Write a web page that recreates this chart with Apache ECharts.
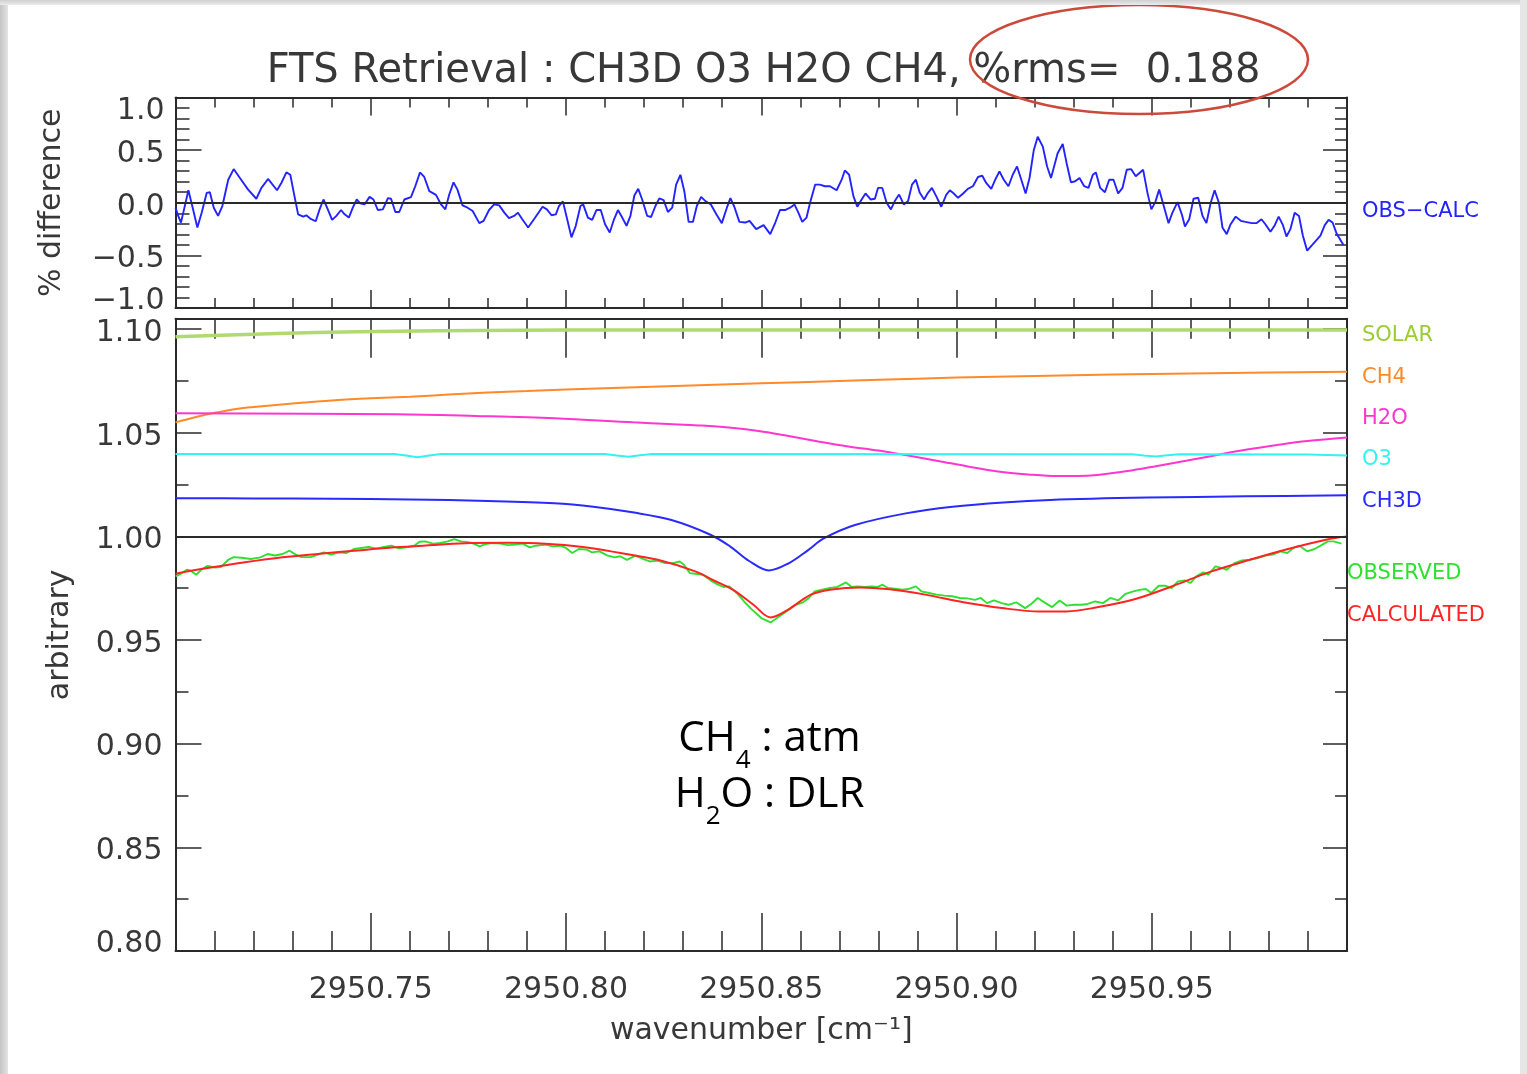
<!DOCTYPE html>
<html>
<head>
<meta charset="utf-8">
<title>FTS Retrieval : CH3D O3 H2O CH4</title>
<script src="https://cdn.jsdelivr.net/npm/echarts@6.0.0/dist/echarts.min.js"></script>
<style>
  html, body { margin: 0; padding: 0; background: #fff; }
  #chart { position: absolute; left: 0; top: 0; width: 1527px; height: 1074px; }
  .edge { position: absolute; pointer-events: none; }
  #edgeL { left: 0; top: 0; width: 8px; height: 1074px; background: linear-gradient(to right, #c4c4c4, #e4e4e4); }
  #edgeT { left: 0; top: 0; width: 1527px; height: 5px; background: linear-gradient(to bottom, #cfcfcf, #ececec); }
  #edgeR { right: 0; top: 0; width: 7px; height: 1074px; background: #e6e6e6; }
</style>
</head>
<body>
<div id="chart"></div>
<div class="edge" id="edgeL"></div>
<div class="edge" id="edgeT"></div>
<div class="edge" id="edgeR"></div>
<script>
// ---------- residual panel: (observed - calculated), % ----------
const wnDiff = [
  2950.7000, 2950.7007, 2950.7014, 2950.7020, 2950.7033, 2950.7044, 2950.7056, 2950.7067, 2950.7080, 2950.7088,
  2950.7098, 2950.7109, 2950.7120, 2950.7135, 2950.7149, 2950.7165, 2950.7186, 2950.7207, 2950.7220, 2950.7237,
  2950.7260, 2950.7271, 2950.7284, 2950.7294, 2950.7303, 2950.7314, 2950.7327, 2950.7335, 2950.7345, 2950.7359,
  2950.7369, 2950.7379, 2950.7390, 2950.7401, 2950.7412, 2950.7424, 2950.7433, 2950.7444, 2950.7454, 2950.7464,
  2950.7473, 2950.7484, 2950.7497, 2950.7507, 2950.7518, 2950.7531, 2950.7544, 2950.7552, 2950.7563, 2950.7573,
  2950.7586, 2950.7603, 2950.7614, 2950.7626, 2950.7637, 2950.7650, 2950.7667, 2950.7680, 2950.7691, 2950.7701,
  2950.7712, 2950.7722, 2950.7735, 2950.7748, 2950.7761, 2950.7778, 2950.7789, 2950.7803, 2950.7816, 2950.7829,
  2950.7842, 2950.7854, 2950.7867, 2950.7877, 2950.7888, 2950.7903, 2950.7918, 2950.7940, 2950.7951, 2950.7963,
  2950.7974, 2950.7982, 2950.7992, 2950.8003, 2950.8014, 2950.8025, 2950.8037, 2950.8044, 2950.8056, 2950.8067,
  2950.8078, 2950.8089, 2950.8100, 2950.8112, 2950.8123, 2950.8133, 2950.8144, 2950.8155, 2950.8165, 2950.8175,
  2950.8185, 2950.8195, 2950.8208, 2950.8218, 2950.8229, 2950.8239, 2950.8250, 2950.8261, 2950.8272, 2950.8282,
  2950.8293, 2950.8303, 2950.8314, 2950.8325, 2950.8335, 2950.8346, 2950.8357, 2950.8371, 2950.8385, 2950.8399,
  2950.8412, 2950.8421, 2950.8431, 2950.8444, 2950.8459, 2950.8470, 2950.8487, 2950.8506, 2950.8523, 2950.8536,
  2950.8548, 2950.8561, 2950.8574, 2950.8585, 2950.8595, 2950.8605, 2950.8616, 2950.8625, 2950.8638, 2950.8650,
  2950.8663, 2950.8676, 2950.8693, 2950.8706, 2950.8714, 2950.8725, 2950.8736, 2950.8746, 2950.8757, 2950.8767,
  2950.8780, 2950.8791, 2950.8799, 2950.8810, 2950.8821, 2950.8832, 2950.8842, 2950.8853, 2950.8865, 2950.8876,
  2950.8886, 2950.8896, 2950.8906, 2950.8917, 2950.8927, 2950.8937, 2950.8948, 2950.8961, 2950.8974, 2950.8983,
  2950.8993, 2950.9004, 2950.9017, 2950.9029, 2950.9042, 2950.9055, 2950.9066, 2950.9076, 2950.9089, 2950.9100,
  2950.9110, 2950.9121, 2950.9133, 2950.9144, 2950.9155, 2950.9166, 2950.9177, 2950.9187, 2950.9198, 2950.9208,
  2950.9221, 2950.9232, 2950.9242, 2950.9259, 2950.9272, 2950.9282, 2950.9293, 2950.9304, 2950.9315, 2950.9327,
  2950.9338, 2950.9349, 2950.9357, 2950.9368, 2950.9380, 2950.9391, 2950.9402, 2950.9414, 2950.9425, 2950.9436,
  2950.9447, 2950.9459, 2950.9478, 2950.9489, 2950.9499, 2950.9509, 2950.9519, 2950.9532, 2950.9543, 2950.9553,
  2950.9566, 2950.9577, 2950.9585, 2950.9596, 2950.9607, 2950.9619, 2950.9630, 2950.9640, 2950.9651, 2950.9661,
  2950.9672, 2950.9681, 2950.9692, 2950.9702, 2950.9715, 2950.9728, 2950.9740, 2950.9756, 2950.9768, 2950.9781,
  2950.9791, 2950.9804, 2950.9815, 2950.9825, 2950.9836, 2950.9845, 2950.9855, 2950.9866, 2950.9877, 2950.9887,
  2950.9898, 2950.9911, 2950.9932, 2950.9943, 2950.9953, 2950.9963, 2950.9974, 2950.9991
];
const obsCalc = [
  -0.047, -0.125, -0.188, -0.094, 0.119, -0.047, -0.235, -0.094, 0.094, 0.100,
  -0.047, -0.125, -0.031, 0.219, 0.320, 0.235, 0.125, 0.038, 0.141, 0.226,
  0.119, 0.188, 0.288, 0.266, 0.094, -0.110, -0.132, -0.119, -0.150, -0.176,
  -0.063, 0.031, -0.063, -0.163, -0.125, -0.069, -0.110, -0.141, -0.047, 0.031,
  -0.006, -0.016, 0.056, 0.031, -0.069, -0.063, 0.044, 0.038, -0.088, -0.088,
  0.031, 0.053, 0.157, 0.288, 0.245, 0.110, 0.075, -0.016, -0.063, 0.078,
  0.194, 0.125, -0.025, -0.047, -0.078, -0.194, -0.172, -0.069, -0.016, -0.025,
  -0.094, -0.147, -0.125, -0.094, -0.157, -0.235, -0.157, -0.038, -0.063, -0.119,
  -0.110, -0.031, 0.013, -0.157, -0.329, -0.219, -0.031, -0.016, -0.141, -0.163,
  -0.069, -0.069, -0.204, -0.282, -0.157, -0.069, -0.141, -0.219, -0.125, 0.069,
  0.132, 0.031, -0.125, -0.135, -0.031, 0.041, 0.025, -0.088, -0.047, 0.172,
  0.266, 0.110, -0.182, -0.182, -0.031, 0.056, 0.016, -0.016, -0.110, -0.194,
  -0.047, 0.044, -0.038, -0.182, -0.188, -0.172, -0.251, -0.213, -0.298, -0.188,
  -0.069, -0.069, -0.047, -0.016, -0.094, -0.182, -0.141, 0.000, 0.172, 0.172,
  0.157, 0.157, 0.119, 0.219, 0.307, 0.266, 0.063, -0.038, 0.031, 0.088,
  0.031, 0.038, 0.141, 0.141, 0.000, -0.063, 0.016, 0.078, -0.016, 0.016,
  0.172, 0.219, 0.094, 0.031, 0.094, 0.141, 0.063, -0.038, 0.078, 0.119,
  0.088, 0.047, 0.088, 0.132, 0.157, 0.245, 0.257, 0.188, 0.132, 0.226,
  0.298, 0.219, 0.157, 0.266, 0.345, 0.219, 0.088, 0.235, 0.502, 0.627,
  0.533, 0.345, 0.235, 0.470, 0.558, 0.376, 0.194, 0.204, 0.235, 0.157,
  0.141, 0.266, 0.288, 0.141, 0.100, 0.219, 0.219, 0.088, 0.141, 0.313,
  0.320, 0.251, 0.313, 0.094, -0.063, 0.006, 0.125, -0.047, -0.194, -0.094,
  0.006, -0.110, -0.226, -0.157, 0.038, 0.047, -0.125, -0.194, 0.000, 0.119,
  0.000, -0.235, -0.298, -0.204, -0.132, -0.172, -0.182, -0.194, -0.194, -0.157,
  -0.204, -0.276, -0.213, -0.132, -0.213, -0.320, -0.251, -0.094, -0.125, -0.313,
  -0.455, -0.401, -0.313, -0.213, -0.163, -0.188, -0.298, -0.401
];

// ---------- spectrum panel ----------
const wnObs = [
  2950.7000, 2950.7010, 2950.7029, 2950.7039, 2950.7053, 2950.7068, 2950.7082, 2950.7101, 2950.7116, 2950.7135,
  2950.7149, 2950.7169, 2950.7193, 2950.7217, 2950.7236, 2950.7255, 2950.7274, 2950.7292, 2950.7308, 2950.7322,
  2950.7346, 2950.7361, 2950.7380, 2950.7399, 2950.7418, 2950.7438, 2950.7457, 2950.7476, 2950.7495, 2950.7514,
  2950.7534, 2950.7553, 2950.7572, 2950.7591, 2950.7611, 2950.7625, 2950.7639, 2950.7659, 2950.7678, 2950.7697,
  2950.7714, 2950.7731, 2950.7745, 2950.7760, 2950.7779, 2950.7793, 2950.7812, 2950.7832, 2950.7851, 2950.7870,
  2950.7889, 2950.7907, 2950.7923, 2950.7947, 2950.7966, 2950.7985, 2950.8000, 2950.8016, 2950.8033, 2950.8053,
  2950.8067, 2950.8086, 2950.8105, 2950.8125, 2950.8139, 2950.8156, 2950.8178, 2950.8197, 2950.8214, 2950.8235,
  2950.8254, 2950.8274, 2950.8291, 2950.8302, 2950.8317, 2950.8331, 2950.8351, 2950.8370, 2950.8389, 2950.8403,
  2950.8418, 2950.8437, 2950.8456, 2950.8475, 2950.8500, 2950.8524, 2950.8544, 2950.8568, 2950.8588, 2950.8607,
  2950.8622, 2950.8637, 2950.8656, 2950.8676, 2950.8695, 2950.8717, 2950.8732, 2950.8746, 2950.8764, 2950.8783,
  2950.8798, 2950.8811, 2950.8824, 2950.8842, 2950.8861, 2950.8876, 2950.8896, 2950.8910, 2950.8930, 2950.8949,
  2950.8969, 2950.8989, 2950.9008, 2950.9028, 2950.9047, 2950.9062, 2950.9078, 2950.9096, 2950.9116, 2950.9133,
  2950.9153, 2950.9176, 2950.9192, 2950.9208, 2950.9228, 2950.9245, 2950.9264, 2950.9282, 2950.9301, 2950.9321,
  2950.9336, 2950.9355, 2950.9375, 2950.9394, 2950.9414, 2950.9433, 2950.9453, 2950.9472, 2950.9485, 2950.9499,
  2950.9518, 2950.9534, 2950.9551, 2950.9567, 2950.9585, 2950.9599, 2950.9614, 2950.9632, 2950.9645, 2950.9663,
  2950.9681, 2950.9692, 2950.9712, 2950.9731, 2950.9751, 2950.9771, 2950.9790, 2950.9810, 2950.9829, 2950.9847,
  2950.9863, 2950.9878, 2950.9898, 2950.9917, 2950.9937, 2950.9951, 2950.9966, 2950.9986
];
const observed = [
  0.9807, 0.9815, 0.9839, 0.9834, 0.9815, 0.9842, 0.9858, 0.9850, 0.9852, 0.9887,
  0.9900, 0.9897, 0.9891, 0.9899, 0.9915, 0.9908, 0.9915, 0.9931, 0.9912, 0.9900,
  0.9900, 0.9910, 0.9923, 0.9912, 0.9923, 0.9920, 0.9939, 0.9944, 0.9949, 0.9941,
  0.9949, 0.9955, 0.9942, 0.9947, 0.9955, 0.9974, 0.9976, 0.9965, 0.9968, 0.9976,
  0.9987, 0.9976, 0.9973, 0.9968, 0.9952, 0.9963, 0.9968, 0.9965, 0.9958, 0.9960,
  0.9965, 0.9947, 0.9955, 0.9960, 0.9952, 0.9955, 0.9944, 0.9920, 0.9939, 0.9936,
  0.9923, 0.9928, 0.9908, 0.9899, 0.9904, 0.9887, 0.9907, 0.9891, 0.9879, 0.9883,
  0.9871, 0.9871, 0.9879, 0.9863, 0.9823, 0.9820, 0.9815, 0.9788, 0.9767, 0.9756,
  0.9759, 0.9727, 0.9686, 0.9649, 0.9606, 0.9585, 0.9611, 0.9643, 0.9670, 0.9682,
  0.9703, 0.9735, 0.9743, 0.9751, 0.9756, 0.9778, 0.9756, 0.9759, 0.9756, 0.9759,
  0.9756, 0.9767, 0.9751, 0.9748, 0.9743, 0.9746, 0.9759, 0.9735, 0.9727, 0.9719,
  0.9714, 0.9711, 0.9703, 0.9701, 0.9694, 0.9703, 0.9678, 0.9691, 0.9678, 0.9670,
  0.9682, 0.9654, 0.9675, 0.9703, 0.9678, 0.9659, 0.9691, 0.9666, 0.9670, 0.9670,
  0.9674, 0.9686, 0.9678, 0.9703, 0.9691, 0.9723, 0.9735, 0.9743, 0.9746, 0.9727,
  0.9762, 0.9762, 0.9751, 0.9783, 0.9788, 0.9775, 0.9807, 0.9826, 0.9815, 0.9855,
  0.9847, 0.9839, 0.9871, 0.9884, 0.9887, 0.9895, 0.9907, 0.9912, 0.9928, 0.9920,
  0.9944, 0.9955, 0.9928, 0.9939, 0.9960, 0.9976, 0.9976, 0.9965
];

const wnCalc = [
  2950.7000, 2950.7082, 2950.7178, 2950.7274, 2950.7370, 2950.7466, 2950.7562, 2950.7659, 2950.7755, 2950.7851,
  2950.7947, 2950.8043, 2950.8139, 2950.8235, 2950.8331, 2950.8380, 2950.8427, 2950.8480, 2950.8524, 2950.8568,
  2950.8627, 2950.8676, 2950.8754, 2950.8822, 2950.8920, 2950.9018, 2950.9116, 2950.9213, 2950.9282, 2950.9360,
  2950.9458, 2950.9556, 2950.9653, 2950.9751, 2950.9849, 2950.9946, 2951.0000
];
const calculated = [
  0.9820, 0.9847, 0.9875, 0.9899, 0.9916, 0.9932, 0.9947, 0.9958, 0.9968, 0.9969,
  0.9965, 0.9949, 0.9920, 0.9887, 0.9831, 0.9786, 0.9743, 0.9670, 0.9609, 0.9646,
  0.9719, 0.9743, 0.9754, 0.9746, 0.9719, 0.9682, 0.9654, 0.9638, 0.9638, 0.9658,
  0.9698, 0.9762, 0.9831, 0.9887, 0.9939, 0.9984, 1.0000
];

const wnCH3D = [
  2950.700, 2950.720, 2950.740, 2950.760, 2950.780, 2950.797, 2950.807, 2950.817, 2950.827, 2950.837,
  2950.842, 2950.847, 2950.852, 2950.857, 2950.862, 2950.866, 2950.874, 2950.887, 2950.899, 2950.912,
  2950.924, 2950.949, 2950.974, 2951.000
];
const ch3d = [
  1.0184, 1.0183, 1.0181, 1.0178, 1.0171, 1.0160, 1.0143, 1.0116, 1.0079, 1.0008,
  0.9952, 0.9880, 0.9836, 0.9870, 0.9934, 0.9990, 1.0055, 1.0111, 1.0143, 1.0164,
  1.0176, 1.0187, 1.0193, 1.0198
];

const wnO3 = [
  2950.700, 2950.756, 2950.759, 2950.762, 2950.765, 2950.768, 2950.810, 2950.813, 2950.816, 2950.819,
  2950.822, 2950.945, 2950.948, 2950.951, 2950.954, 2950.957, 2950.990, 2951.000
];
const o3 = [
  1.0397, 1.0397, 1.0390, 1.0382, 1.0390, 1.0397, 1.0397, 1.0390, 1.0384, 1.0391,
  1.0397, 1.0396, 1.0390, 1.0385, 1.0391, 1.0396, 1.0395, 1.0390
];

const wnH2O = [
  2950.700, 2950.7566, 2950.7768, 2950.7970, 2950.8172, 2950.8263, 2950.8340, 2950.8416, 2950.8493, 2950.8570,
  2950.8646, 2950.8723, 2950.8800, 2950.8876, 2950.8953, 2950.9029, 2950.9106, 2950.9183, 2950.9259, 2950.9310,
  2950.9361, 2950.9438, 2950.9514, 2950.9591, 2950.9668, 2950.9744, 2950.9821, 2950.9898, 2951.0000
];
const h2o = [
  1.0594, 1.0589, 1.0581, 1.0570, 1.0550, 1.0542, 1.0535, 1.0525, 1.0508, 1.0484,
  1.0458, 1.0434, 1.0414, 1.0390, 1.0364, 1.0337, 1.0313, 1.0299, 1.0291, 1.0291,
  1.0296, 1.0315, 1.0340, 1.0366, 1.0393, 1.0419, 1.0441, 1.0460, 1.0477
];

const wnCH4 = [
  2950.700, 2950.705, 2950.710, 2950.716, 2950.720, 2950.730, 2950.740, 2950.750, 2950.760, 2950.770,
  2950.780, 2950.790, 2950.800, 2950.820, 2950.840, 2950.860, 2950.880, 2950.900, 2950.920, 2950.940,
  2950.960, 2950.980, 2951.000
];
const ch4 = [
  1.0550, 1.0575, 1.0596, 1.0616, 1.0624, 1.0641, 1.0656, 1.0666, 1.0674, 1.0684,
  1.0694, 1.0701, 1.0708, 1.0721, 1.0733, 1.0744, 1.0755, 1.0766, 1.0774, 1.0781,
  1.0786, 1.0790, 1.0794
];

const wnSolar = [2950.700, 2950.716, 2950.736, 2950.757, 2950.777, 2950.800, 2950.850, 2950.900, 2950.950, 2951.000];
const solar   = [1.0963, 1.0973, 1.0983, 1.0990, 1.0993, 1.0995, 1.0996, 1.0996, 1.0996, 1.0996];

// ---------- helpers ----------
const pair = (xs, ys) => xs.map((x, i) => [x, ys[i]]);
const FONT = 'DejaVu Sans';
const INK = '#383838';
const FRAME = { color: '#2a2a2a', width: 2 };
const WN_MIN = 2950.70, WN_MAX = 2951.00;

function xAxisCfg(gridIndex, position, major, minor, withLabels) {
  return {
    type: 'value', gridIndex, position, min: WN_MIN, max: WN_MAX, interval: 0.05,
    axisLine: { show: true, onZero: false, lineStyle: FRAME },
    axisTick: { show: true, inside: true, length: major, lineStyle: { color: FRAME.color, width: 1.5 } },
    minorTick: { show: true, splitNumber: 5, length: minor, lineStyle: { color: FRAME.color, width: 1.5 } },
    splitLine: { show: false },
    axisLabel: withLabels ? {
      show: true, margin: 24, showMinLabel: false, showMaxLabel: false,
      fontFamily: FONT, fontSize: 30, color: INK, formatter: v => v.toFixed(2)
    } : { show: false }
  };
}

function yAxisCfg(gridIndex, position, min, max, interval, major, extra) {
  return Object.assign({
    type: 'value', gridIndex, position, min, max, interval,
    axisLine: { show: true, onZero: false, lineStyle: FRAME },
    axisTick: { show: true, inside: true, length: major, lineStyle: { color: FRAME.color, width: 1.5 } },
    splitLine: { show: false },
    axisLabel: { show: false }
  }, extra || {});
}

// end labels of each panel sit a little inside the frame
const diffLabel = v => {
  const t = (v < 0 ? '\u2212' : '') + Math.abs(v).toFixed(1);
  if (v >= 1) return '{hi|' + t + '}';
  if (v <= -1) return '{lo|' + t + '}';
  return '{n|' + t + '}';
};
const specLabel = v => (Math.abs(v - 0.8) < 1e-9 ? '{lo2|' + v.toFixed(2) + '}' : '{n|' + v.toFixed(2) + '}');
const labelRich = {
  n:   { fontFamily: FONT, fontSize: 30, color: INK, padding: [8, 0, 0, 0] },
  hi:  { fontFamily: FONT, fontSize: 30, color: INK, padding: [28, 0, 0, 0] },
  lo:  { fontFamily: FONT, fontSize: 30, color: INK, padding: [0, 0, 14, 0] },
  lo2: { fontFamily: FONT, fontSize: 30, color: INK, padding: [0, 0, 14, 0] }
};

function curve(name, xs, ys, color, width, smooth, z) {
  return {
    name, type: 'line', xAxisIndex: 2, yAxisIndex: 2, data: pair(xs, ys),
    showSymbol: false, symbol: 'none', smooth: smooth, z: z || 2,
    lineStyle: { color, width }, clip: true
  };
}

function sideLabel(text, x, y, color) {
  return {
    type: 'text', x: x, y: y + 3, z: 100,
    style: { text, fill: color, font: '21px "' + FONT + '"', align: 'left', verticalAlign: 'middle' }
  };
}

function formula(parts, cx, cy) {
  return {
    type: 'text', x: cx, y: cy, z: 100,
    style: {
      text: parts, align: 'center', verticalAlign: 'middle',
      rich: {
        b: { fontFamily: 'Open Sans', fontSize: 42, color: '#000', lineHeight: 70 },
        s: { fontFamily: 'Open Sans', fontSize: 26, color: '#000', lineHeight: 26, verticalAlign: 'bottom' }
      }
    }
  };
}

const chart = echarts.init(document.getElementById('chart'), null, { renderer: 'canvas' });

chart.setOption({
  backgroundColor: '#fff',
  animation: false,
  title: {
    text: 'FTS Retrieval : CH3D O3 H2O CH4, %rms=  0.188',
    left: 'center', top: 47,
    textStyle: { fontFamily: FONT, fontSize: 40, fontWeight: 'normal', color: INK }
  },
  grid: [
    { left: 175.5, top: 97.5, width: 1171.5, height: 210.5 },
    { left: 175.5, top: 318.7, width: 1171.5, height: 632.3 }
  ],
  xAxis: [
    xAxisCfg(0, 'bottom', 18, 10, false),
    xAxisCfg(0, 'top', 18, 10, false),
    Object.assign(xAxisCfg(1, 'bottom', 38, 20, true), {
      name: 'wavenumber [cm\u207B\u00B9]', nameLocation: 'middle', nameGap: 65,
      nameTextStyle: { fontFamily: FONT, fontSize: 30, color: INK }
    }),
    xAxisCfg(1, 'top', 39, 20, false)
  ],
  yAxis: [
    yAxisCfg(0, 'left', -1, 1, 0.5, 26, {
      minorTick: { show: true, splitNumber: 5, length: 14, lineStyle: { color: FRAME.color, width: 1.5 } },
      axisLabel: { show: true, margin: 11, fontFamily: FONT, fontSize: 30, color: INK, formatter: diffLabel, rich: labelRich },
      name: '% difference', nameLocation: 'middle', nameGap: 108,
      nameTextStyle: { fontFamily: FONT, fontSize: 30, color: INK }
    }),
    yAxisCfg(0, 'right', -1, 1, 0.5, 24, {
      minorTick: { show: true, splitNumber: 5, length: 12, lineStyle: { color: FRAME.color, width: 1.5 } }
    }),
    yAxisCfg(1, 'left', 0.8, 1.105, 0.05, 26, {
      axisLabel: { show: true, margin: 13, showMaxLabel: false, fontFamily: FONT, fontSize: 30, color: INK, formatter: specLabel, rich: labelRich },
      name: 'arbitrary', nameLocation: 'middle', nameGap: 100,
      nameTextStyle: { fontFamily: FONT, fontSize: 30, color: INK }
    }),
    yAxisCfg(1, 'left', 0.8, 1.105, 0.025, 13, { axisLine: { show: false, onZero: false } }),
    yAxisCfg(1, 'right', 0.8, 1.105, 0.05, 24),
    yAxisCfg(1, 'right', 0.8, 1.105, 0.025, 12, { axisLine: { show: false, onZero: false } })
  ],
  series: [
    {
      name: 'OBS-CALC', type: 'line', xAxisIndex: 0, yAxisIndex: 0,
      data: pair(wnDiff, obsCalc), showSymbol: false, symbol: 'none',
      lineStyle: { color: '#2323ff', width: 1.9 }, z: 3,
      markLine: {
        silent: true, symbol: 'none', label: { show: false },
        lineStyle: { color: '#2a2a2a', width: 2, type: 'solid' },
        data: [{ yAxis: 0 }]
      }
    },
    curve('SOLAR', wnSolar, solar, '#b0da70', 3.5, 0.35, 2),
    curve('CH4', wnCH4, ch4, '#ff8a2a', 2, 0.35, 2),
    curve('H2O', wnH2O, h2o, '#ff36cf', 2, 0.35, 2),
    curve('O3', wnO3, o3, '#35f2f2', 2, false, 2),
    curve('CH3D', wnCH3D, ch3d, '#2a2aff', 2, 0.35, 2),
    curve('OBSERVED', wnObs, observed, '#30e030', 1.9, false, 3),
    Object.assign(curve('CALCULATED', wnCalc, calculated, '#ff2424', 2, 0.35, 4), {
      markLine: {
        silent: true, symbol: 'none', label: { show: false },
        lineStyle: { color: '#2a2a2a', width: 2, type: 'solid' },
        data: [{ yAxis: 1.0 }]
      }
    })
  ],
  graphic: [
    {
      type: 'ellipse', z: 100,
      shape: { cx: 1139, cy: 59.5, rx: 169, ry: 54.5 },
      style: { fill: 'none', stroke: '#cc4a3c', lineWidth: 2.5 }
    },
    sideLabel('OBS\u2212CALC', 1362, 209, '#2323ff'),
    sideLabel('SOLAR', 1362, 333, '#9ccc33'),
    sideLabel('CH4', 1362, 375, '#ff8a2a'),
    sideLabel('H2O', 1362, 416, '#ff36cf'),
    sideLabel('O3', 1362, 457, '#35f2f2'),
    sideLabel('CH3D', 1362, 499, '#2a2aff'),
    sideLabel('OBSERVED', 1347, 571, '#30e030'),
    sideLabel('CALCULATED', 1347, 613, '#ff2424'),
    formula('{b|CH}{s|4}{b| : atm}', 769.5, 739),
    formula('{b|H}{s|2}{b|O : DLR}', 769.5, 795)
  ]
});
</script>
</body>
</html>
